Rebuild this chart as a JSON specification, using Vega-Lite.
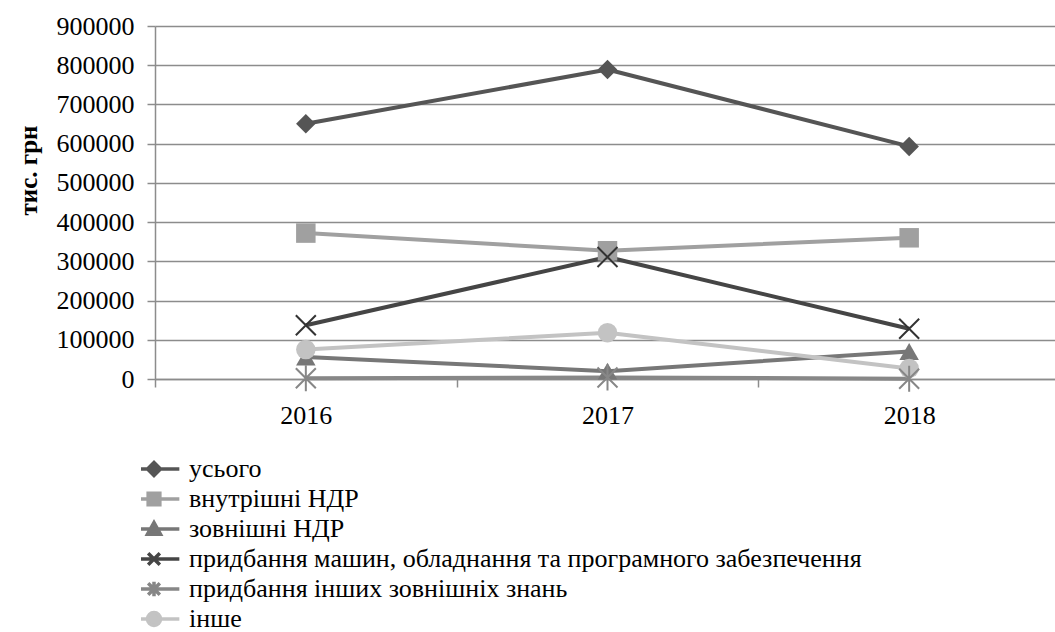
{
  "$schema": "https://vega.github.io/schema/vega-lite/v6.json",
  "width": 905,
  "height": 353,
  "autosize": {"type": "none"},
  "padding": {"left": 155, "top": 26, "right": 0, "bottom": 253},
  "background": "white",
  "config": {"view": {"stroke": null}, "font": "Liberation Serif"},
  "data": {
    "values": [
      {"year": "2016", "series": "усього", "value": 651000},
      {"year": "2017", "series": "усього", "value": 789000},
      {"year": "2018", "series": "усього", "value": 593000},
      {"year": "2016", "series": "внутрішні НДР", "value": 372000},
      {"year": "2017", "series": "внутрішні НДР", "value": 327000},
      {"year": "2018", "series": "внутрішні НДР", "value": 360000},
      {"year": "2016", "series": "зовнішні НДР", "value": 56000},
      {"year": "2017", "series": "зовнішні НДР", "value": 20000},
      {"year": "2018", "series": "зовнішні НДР", "value": 70000},
      {"year": "2016", "series": "придбання машин, обладнання та програмного забезпечення", "value": 137000},
      {"year": "2017", "series": "придбання машин, обладнання та програмного забезпечення", "value": 311000},
      {"year": "2018", "series": "придбання машин, обладнання та програмного забезпечення", "value": 128000},
      {"year": "2016", "series": "придбання інших зовнішніх знань", "value": 2000},
      {"year": "2017", "series": "придбання інших зовнішніх знань", "value": 4000},
      {"year": "2018", "series": "придбання інших зовнішніх знань", "value": 700},
      {"year": "2016", "series": "інше", "value": 75000},
      {"year": "2017", "series": "інше", "value": 118000},
      {"year": "2018", "series": "інше", "value": 27000}
    ]
  },
  "encoding": {
    "x": {
      "field": "year",
      "type": "ordinal",
      "scale": {"domain": ["2016", "2017", "2018"], "paddingInner": 0, "paddingOuter": 0},
      "axis": {
        "title": null,
        "labelAngle": 0,
        "labelFont": "Liberation Serif",
        "labelFontSize": 26,
        "labelColor": "#000000",
        "labelPadding": 15,
        "tickBand": "extent",
        "tickSize": 8,
        "tickColor": "#8c8c8c",
        "tickWidth": 1.5,
        "domainColor": "#8c8c8c",
        "domainWidth": 1.5,
        "grid": false
      }
    },
    "y": {
      "field": "value",
      "type": "quantitative",
      "scale": {"domain": [0, 900000], "nice": false, "zero": true},
      "axis": {
        "values": [0, 100000, 200000, 300000, 400000, 500000, 600000, 700000, 800000, 900000],
        "format": "d",
        "grid": true,
        "gridColor": "#8c8c8c",
        "gridWidth": 1.5,
        "domainColor": "#8c8c8c",
        "domainWidth": 1.5,
        "tickColor": "#8c8c8c",
        "tickWidth": 1.5,
        "tickSize": 8,
        "labelFont": "Liberation Serif",
        "labelFontSize": 26,
        "labelColor": "#000000",
        "labelPadding": 13,
        "title": "тис. грн",
        "titleFont": "Liberation Serif",
        "titleFontSize": 25,
        "titleFontWeight": "bold",
        "titleColor": "#000000",
        "titleAngle": -90,
        "titleX": -127,
        "titleY": 144,
        "titleAlign": "center",
        "titleBaseline": "middle"
      }
    }
  },
  "layer": [
    {
      "mark": {"type": "line", "strokeWidth": 4, "strokeJoin": "round"},
      "encoding": {
        "color": {
          "field": "series",
          "type": "nominal",
          "scale": {
            "domain": ["усього", "внутрішні НДР", "зовнішні НДР", "придбання машин, обладнання та програмного забезпечення", "придбання інших зовнішніх знань", "інше"],
            "range": ["#555555", "#a0a0a0", "#777777", "#454545", "#878787", "#c3c3c3"]
          },
          "legend": null
        }
      }
    },
    {
      "transform": [{"filter": {"field": "series", "oneOf": ["усього", "внутрішні НДР", "зовнішні НДР", "інше"]}}],
      "mark": {"type": "point", "filled": true, "opacity": 1, "size": 380},
      "encoding": {
        "color": {
          "field": "series",
          "type": "nominal",
          "scale": {
            "domain": ["усього", "внутрішні НДР", "зовнішні НДР", "інше"],
            "range": ["#555555", "#a0a0a0", "#777777", "#c3c3c3"]
          },
          "legend": null
        },
        "shape": {
          "field": "series",
          "type": "nominal",
          "scale": {
            "domain": ["усього", "внутрішні НДР", "зовнішні НДР", "інше"],
            "range": ["diamond", "square", "triangle-up", "circle"]
          },
          "legend": null
        }
      }
    },
    {
      "transform": [{"filter": {"field": "series", "oneOf": ["придбання машин, обладнання та програмного забезпечення", "придбання інших зовнішніх знань"]}}],
      "mark": {"type": "point", "filled": false, "opacity": 1, "size": 400, "strokeWidth": 2},
      "encoding": {
        "color": {
          "field": "series",
          "type": "nominal",
          "scale": {
            "domain": ["придбання машин, обладнання та програмного забезпечення", "придбання інших зовнішніх знань"],
            "range": ["#333333", "#878787"]
          },
          "legend": null
        },
        "shape": {
          "field": "series",
          "type": "nominal",
          "scale": {
            "domain": ["придбання машин, обладнання та програмного забезпечення", "придбання інших зовнішніх знань"],
            "range": ["M-1,-1L1,1M-1,1L1,-1", "M-1,-1L1,1M-1,1L1,-1M0,-1.3L0,1.3"]
          },
          "legend": null
        }
      }
    },
    {
      "transform": [{"filter": "false"}],
      "mark": {"type": "point", "opacity": 1, "size": 169, "strokeWidth": 3.5},
      "encoding": {
        "fill": {
          "field": "series",
          "type": "nominal",
          "scale": {
            "domain": ["усього", "внутрішні НДР", "зовнішні НДР", "придбання машин, обладнання та програмного забезпечення", "придбання інших зовнішніх знань", "інше"],
            "range": ["#555555", "#a0a0a0", "#777777", "#454545", "#878787", "#c3c3c3"]
          },
          "legend": {
            "orient": "none",
            "legendX": -14,
            "legendY": 430,
            "title": null,
            "padding": 0,
            "labelFont": "Liberation Serif",
            "labelFontSize": 26,
            "labelColor": "#000000",
            "labelOffset": 22,
            "labelLimit": 1000,
            "rowPadding": 4,
            "clipHeight": 26,
            "symbolSize": 169,
            "symbolStrokeWidth": 3.5,
            "symbolOpacity": 1
          }
        },
        "stroke": {
          "field": "series",
          "type": "nominal",
          "scale": {
            "domain": ["усього", "внутрішні НДР", "зовнішні НДР", "придбання машин, обладнання та програмного забезпечення", "придбання інших зовнішніх знань", "інше"],
            "range": ["#555555", "#a0a0a0", "#777777", "#454545", "#878787", "#c3c3c3"]
          }
        },
        "shape": {
          "field": "series",
          "type": "nominal",
          "scale": {
            "domain": ["усього", "внутрішні НДР", "зовнішні НДР", "придбання машин, обладнання та програмного забезпечення", "придбання інших зовнішніх знань", "інше"],
            "range": [
              "M-3.9,0H3.9M-1,0L0,-1L1,0L0,1Z",
              "M-3.9,0H3.9M-0.9,-0.9H0.9V0.9H-0.9Z",
              "M-3.9,0H3.9M-1,0.8L0,-1L1,0.8Z",
              "M-3.9,0H3.9M-0.9,-0.9L0.9,0.9M-0.9,0.9L0.9,-0.9",
              "M-3.9,0H3.9M-0.9,-0.9L0.9,0.9M-0.9,0.9L0.9,-0.9M0,-1.1L0,1.1",
              "M-3.9,0H3.9M-1,0A1,1 0 1,1 1,0A1,1 0 1,1 -1,0Z"
            ]
          }
        }
      }
    }
  ],
  "resolve": {"scale": {"color": "independent", "shape": "independent", "fill": "independent", "stroke": "independent"}}
}
